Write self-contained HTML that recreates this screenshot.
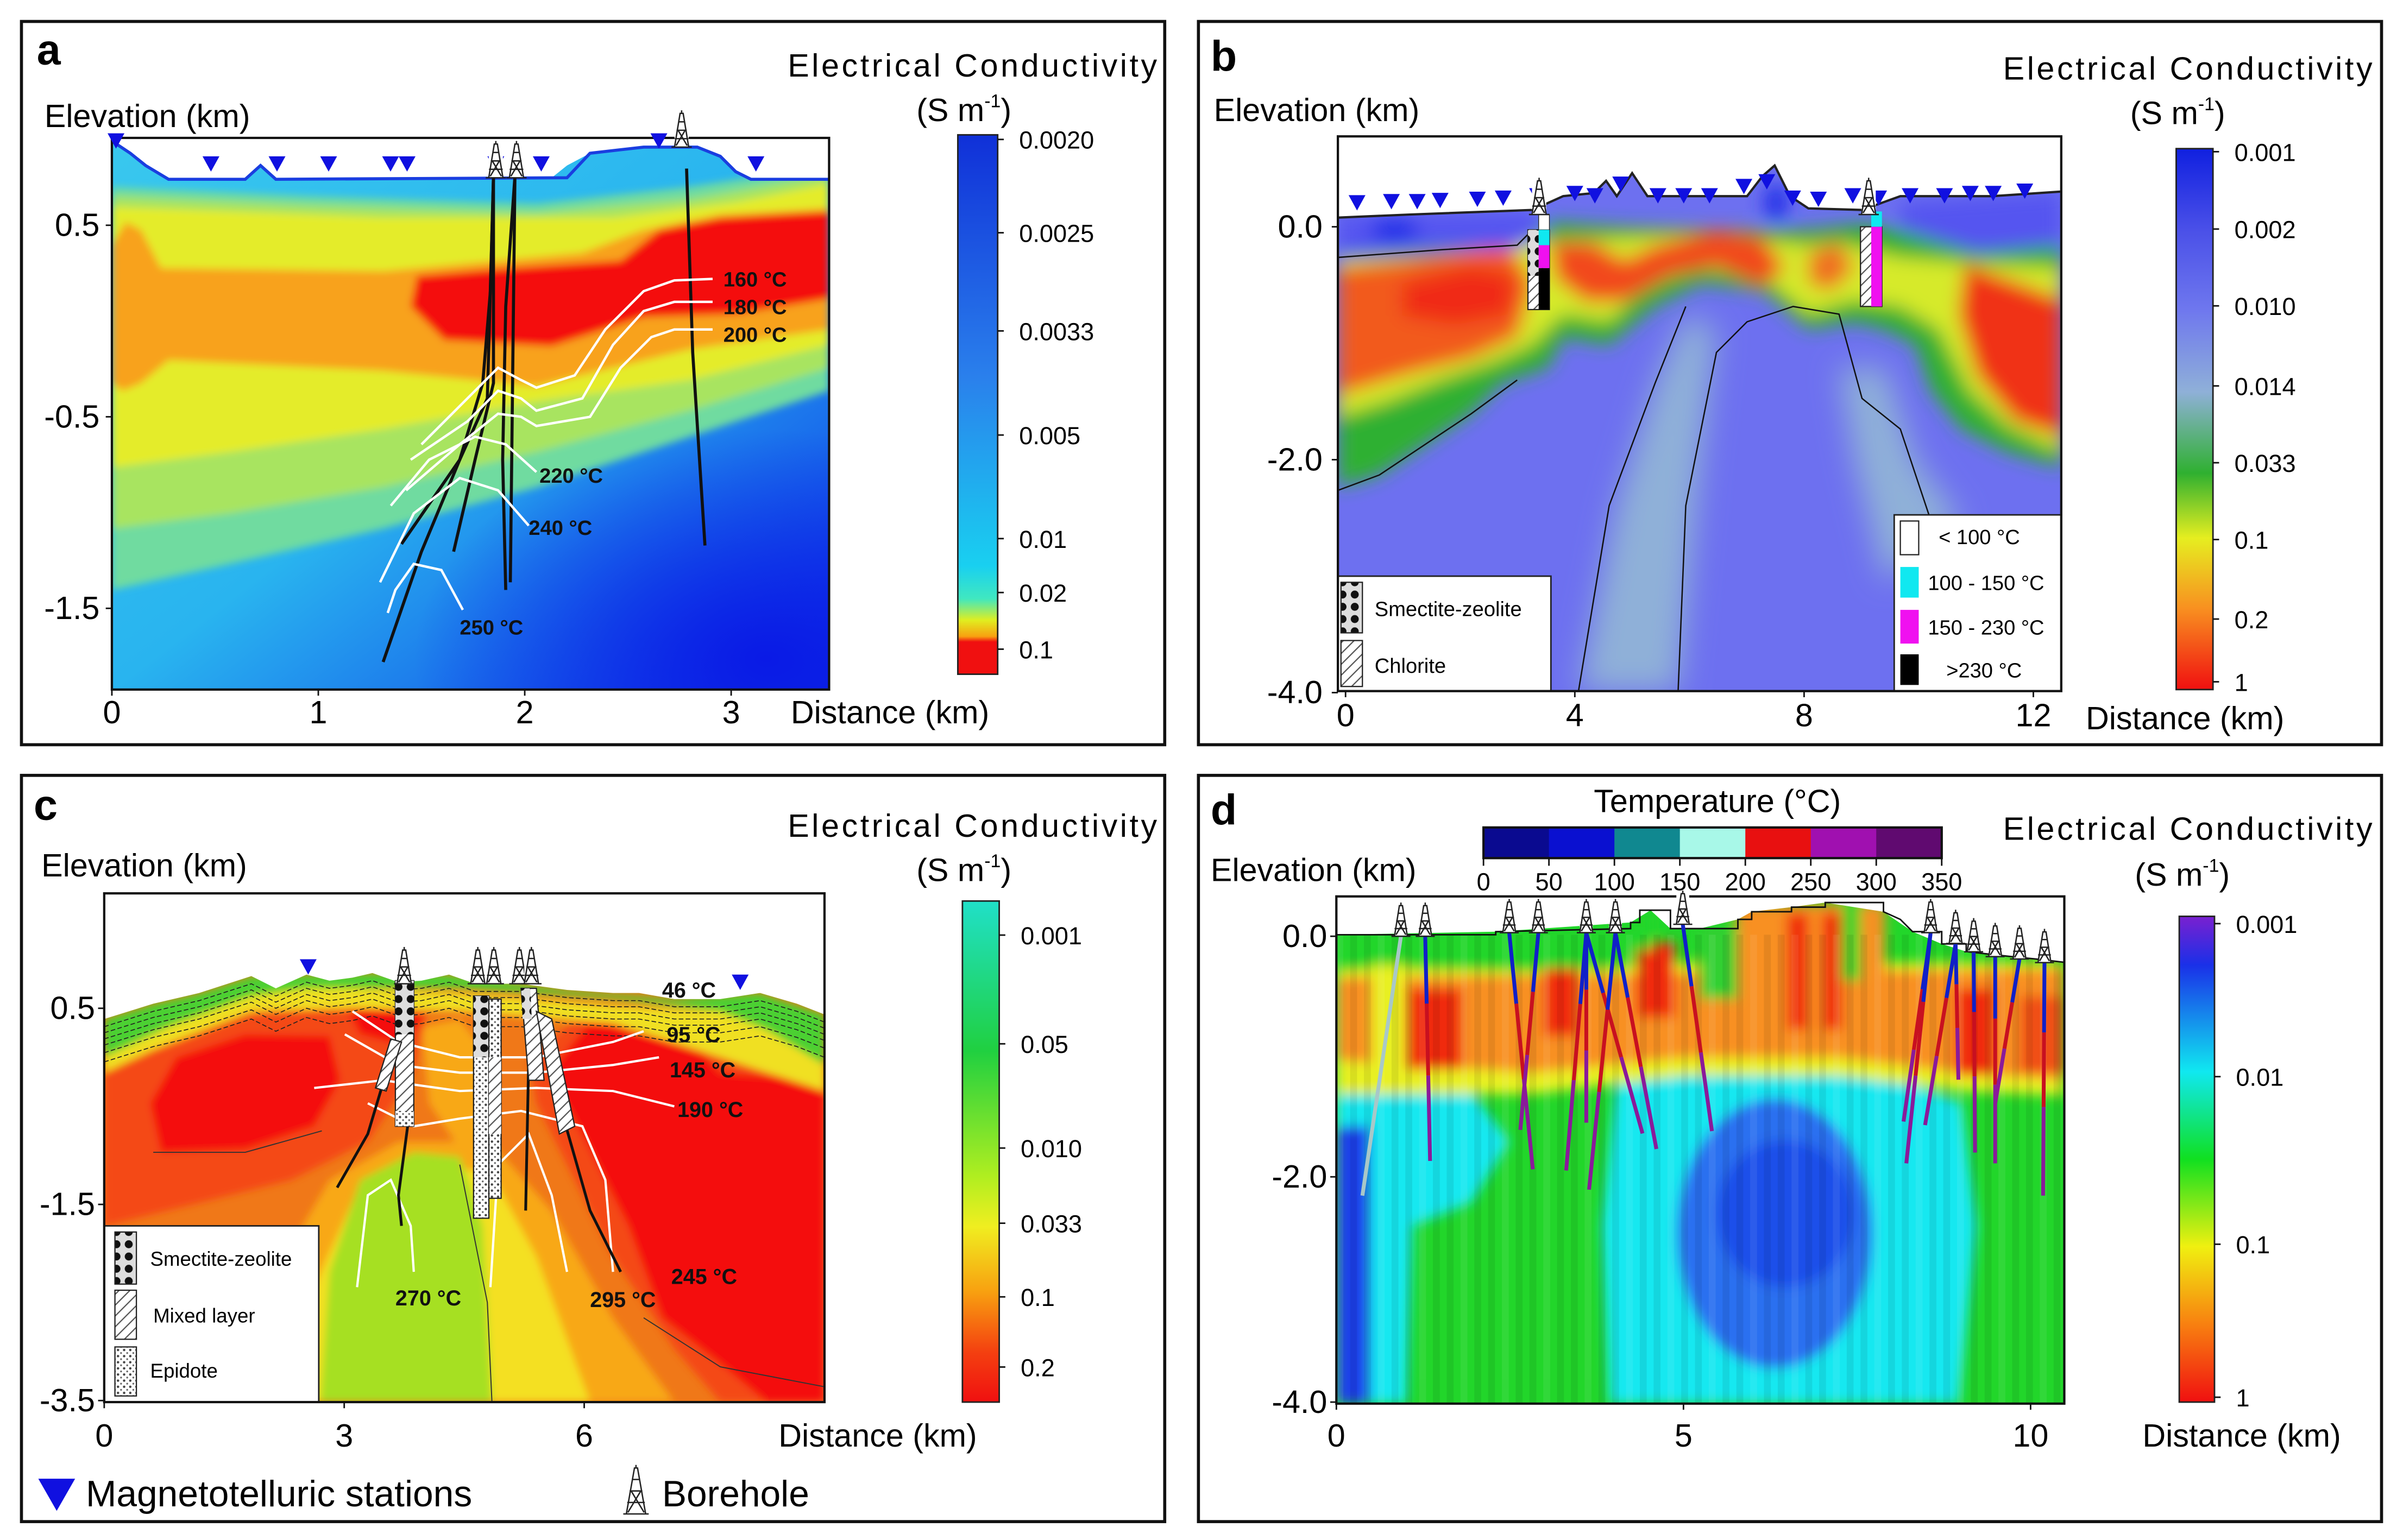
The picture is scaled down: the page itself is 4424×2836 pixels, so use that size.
<!DOCTYPE html>
<html><head><meta charset="utf-8">
<style>
html,body{margin:0;padding:0;background:#fff;}
svg{display:block;font-family:"Liberation Sans",Arial,sans-serif;}
</style></head>
<body>
<svg id="fig" width="4424" height="2836" viewBox="0 0 1568 1005" preserveAspectRatio="none" xmlns="http://www.w3.org/2000/svg">
<defs>
<filter id="blur6" x="-20%" y="-20%" width="140%" height="140%"><feGaussianBlur stdDeviation="6"/></filter>
<filter id="blur4" x="-20%" y="-20%" width="140%" height="140%"><feGaussianBlur stdDeviation="4"/></filter>
<filter id="blur3" x="-20%" y="-20%" width="140%" height="140%"><feGaussianBlur stdDeviation="2.5"/></filter>
<filter id="blur10" x="-30%" y="-30%" width="160%" height="160%"><feGaussianBlur stdDeviation="10"/></filter>
<clipPath id="clipA"><rect x="73" y="90" width="468" height="360"/></clipPath>
<clipPath id="clipB"><rect x="873" y="89" width="472" height="362"/></clipPath>
<clipPath id="clipC"><rect x="68" y="583" width="470" height="332"/></clipPath>
<clipPath id="clipD"><rect x="872" y="585" width="475" height="331"/></clipPath>
<linearGradient id="gA" x1="0" y1="0" x2="1" y2="1">
<stop offset="0" stop-color="#39c8ee"/><stop offset="0.5" stop-color="#29b4ef"/><stop offset="1" stop-color="#0c2ee8"/></linearGradient>
<radialGradient id="rA" cx="0.5" cy="0.5" r="0.5"><stop offset="0" stop-color="#0a1ae6"/><stop offset="1" stop-color="#0a1ae6" stop-opacity="0"/></radialGradient>
<linearGradient id="cbA" x1="0" y1="0" x2="0" y2="1">
<stop offset="0" stop-color="#1030d8"/><stop offset="0.45" stop-color="#2a80ec"/><stop offset="0.8" stop-color="#19d0f0"/><stop offset="0.86" stop-color="#40e8c0"/><stop offset="0.9" stop-color="#e0ee20"/><stop offset="0.93" stop-color="#f8a010"/><stop offset="0.94" stop-color="#f01010"/><stop offset="1" stop-color="#f01010"/></linearGradient>
<linearGradient id="cbB" x1="0" y1="0" x2="0" y2="1">
<stop offset="0" stop-color="#1020e0"/><stop offset="0.15" stop-color="#4a50e8"/><stop offset="0.3" stop-color="#6f78ee"/><stop offset="0.45" stop-color="#8fb0d8"/><stop offset="0.6" stop-color="#2fb030"/><stop offset="0.72" stop-color="#e6ee20"/><stop offset="0.85" stop-color="#f89020"/><stop offset="1" stop-color="#f01010"/></linearGradient>
<linearGradient id="cbC" x1="0" y1="0" x2="0" y2="1">
<stop offset="0" stop-color="#20e0c8"/><stop offset="0.3" stop-color="#20d040"/><stop offset="0.55" stop-color="#b0ee20"/><stop offset="0.65" stop-color="#f0ee20"/><stop offset="0.78" stop-color="#f8a010"/><stop offset="0.9" stop-color="#f44010"/><stop offset="1" stop-color="#f01010"/></linearGradient>
<linearGradient id="cbD" x1="0" y1="0" x2="0" y2="1">
<stop offset="0" stop-color="#7a20d0"/><stop offset="0.1" stop-color="#1a30e8"/><stop offset="0.32" stop-color="#10e8f0"/><stop offset="0.5" stop-color="#10e020"/><stop offset="0.68" stop-color="#f0f010"/><stop offset="0.84" stop-color="#f88010"/><stop offset="1" stop-color="#f01010"/></linearGradient>
<pattern id="hatch" width="5" height="5" patternUnits="userSpaceOnUse" patternTransform="rotate(45)"><rect width="5" height="5" fill="#fff"/><line x1="0" y1="0" x2="0" y2="5" stroke="#555" stroke-width="1.6"/></pattern>
<pattern id="dots" width="8" height="8" patternUnits="userSpaceOnUse"><rect width="8" height="8" fill="#ddd"/><circle cx="4" cy="4" r="2.6" fill="#111"/></pattern>
<pattern id="speck" width="4" height="4" patternUnits="userSpaceOnUse"><rect width="4" height="4" fill="#fff"/><circle cx="1" cy="1" r="0.8" fill="#444"/><circle cx="3" cy="3" r="0.6" fill="#666"/></pattern>
<path id="surfC" d="M68,665 L100,655 L130,648 L164,637 L180,645 L200,636 L215,640 L230,638 L243,635 L260,641 L275,640 L293,636 L310,642 L340,642 L370,646 L400,648 L417,648 L440,652 L470,652 L496,648 L520,655 L538,662"/>
</defs>

<rect x="14" y="14" width="746" height="472" fill="none" stroke="#111" stroke-width="2"/>
<rect x="782" y="14" width="772" height="472" fill="none" stroke="#111" stroke-width="2"/>
<rect x="14" y="506" width="746" height="487" fill="none" stroke="#111" stroke-width="2"/>
<rect x="782" y="506" width="772" height="487" fill="none" stroke="#111" stroke-width="2"/>

<!-- ========== PANEL A ========== -->
<g clip-path="url(#clipA)">
<rect x="73" y="90" width="468" height="360" fill="url(#gA)"/>
<ellipse cx="500" cy="430" rx="230" ry="150" fill="url(#rA)"/>
<g filter="url(#blur3)">
<path fill="#6fdba0" d="M73,122 L200,128 L350,133 L450,122 L541,108 L541,255 L450,285 L350,318 L250,345 L150,368 L73,385 Z"/>
<path fill="#a8e460" d="M73,128 L200,134 L350,139 L450,130 L541,114 L541,240 L450,268 L350,295 L250,318 L150,335 L73,345 Z"/>
<path fill="#e4ec2a" d="M73,135 L250,142 L400,142 L480,132 L541,120 L541,225 L450,248 L350,262 L250,280 L150,295 L73,305 Z"/>
<path fill="#f8a21a" d="M73,160 L82,145 L92,150 L105,175 L250,177 L380,165 L420,150 L470,140 L541,136 L541,215 L450,228 L350,252 L250,242 L110,235 L92,250 L80,255 L73,250 Z"/>
<path fill="#f41010" d="M272,180 L330,175 L405,170 L430,150 L470,142 L541,138 L541,195 L480,205 L420,207 L360,226 L290,222 L268,200 Z"/>
</g>
<path fill="#fff" d="M73,90 L73,92 L85,100 L95,108 L110,117 L160,117 L170,108 L180,117 L320,117 L340,117 L350,116 L360,116 L370,108 L385,100 L420,96 L455,96 L470,102 L480,112 L490,117 L541,117 L541,90 Z"/>
<path fill="none" stroke="#1a3ee0" stroke-width="2" d="M73,92 L85,100 L95,108 L110,117 L160,117 L170,108 L180,117 L370,116 L385,100 L420,96 L455,96 L470,102 L480,112 L490,117 L541,117"/>
<g fill="none" stroke="#111" stroke-width="2">
<path d="M322,115 L320,190 L315,250 L300,300 L275,360 L250,432"/>
<path d="M322,115 L322,250 L310,300 L296,360"/>
<path d="M322,115 L318,260 L300,300 L262,355"/>
<path d="M336,115 L330,200 L328,300 L330,385"/>
<path d="M336,115 L333,380"/>
<path d="M448,110 L452,230 L460,356"/>
</g>
<g fill="none" stroke="#fff" stroke-width="1.6">
<path d="M465,182 L440,183 L420,190 L395,215 L375,245 L350,253 L340,248 L325,240 L310,255 L275,290"/>
<path d="M465,197 L440,197 L420,203 L400,225 L380,260 L350,268 L340,260 L325,255 L305,275 L268,300"/>
<path d="M465,215 L440,215 L425,220 L405,240 L385,272 L350,278 L340,272 L325,270 L300,290 L265,320"/>
<path d="M350,308 L330,290 L310,285 L280,300 L255,330"/>
<path d="M345,343 L325,320 L300,312 L270,335 L248,380"/>
<path d="M302,398 L288,372 L270,368 L258,385 L253,400"/>
</g>
</g>
<rect x="73" y="90" width="468" height="360" fill="none" stroke="#111" stroke-width="1.5"/>
<g font-size="13.5" font-weight="bold" fill="#111">
<text x="472" y="187">160 °C</text><text x="472" y="205">180 °C</text><text x="472" y="223">200 °C</text>
<text x="352" y="315">220 °C</text><text x="345" y="349">240 °C</text><text x="300" y="414">250 °C</text>
</g>
<g id="markA"></g>
<text x="24" y="42" font-size="28" font-weight="bold">a</text>
<text x="29" y="83" font-size="21">Elevation (km)</text>
<text x="516" y="472" font-size="21">Distance (km)</text>
<text x="514" y="50" font-size="21" textLength="241">Electrical Conductivity</text>
<text x="598" y="79" font-size="21">(S m<tspan font-size="12" dy="-9">-1</tspan><tspan dy="9">)</tspan></text>
<rect x="625" y="88" width="26" height="352" fill="url(#cbA)" stroke="#222" stroke-width="1"/>
<g id="ticksA"></g>

<!-- ========== PANEL B ========== -->
<g clip-path="url(#clipB)">
<rect x="873" y="89" width="472" height="362" fill="#6d70f0"/>
<g filter="url(#blur10)">
<path fill="#8fb0d8" d="M1030,451 L1055,330 L1080,250 L1100,205 L1120,215 L1110,300 L1095,451 Z"/>
<path fill="#8fb0d8" d="M1200,240 L1230,240 L1250,300 L1280,340 L1230,380 L1210,300 Z"/>
</g>
<g filter="url(#blur6)">
<path fill="#2fb030" d="M873,160 L940,160 L990,150 L1010,145 L1060,148 L1120,150 L1180,150 L1215,146 L1240,150 L1345,160 L1345,305 L1310,295 L1280,280 L1260,255 L1250,225 L1230,215 L1210,210 L1180,215 L1150,190 L1110,185 L1080,200 L1050,225 L1020,220 L1010,240 L980,250 L960,270 L930,290 L900,310 L873,318 Z"/>
<path fill="#d6ea2a" d="M873,170 L940,168 L995,158 L1060,155 L1120,152 L1180,160 L1200,158 L1240,168 L1290,172 L1345,175 L1345,295 L1310,278 L1285,255 L1265,215 L1240,200 L1210,196 L1180,205 L1150,180 L1110,175 L1075,185 L1050,210 L1020,205 L1000,225 L975,236 L940,248 L905,262 L873,272 Z"/>
<path fill="#f25a1c" d="M873,175 L920,170 L985,160 L1000,185 L990,220 L960,234 L920,244 L873,258 Z"/>
<path fill="#f02a18" d="M915,185 L960,174 L988,180 L985,205 L950,212 L915,206 Z"/>
<path fill="#f24a1c" d="M1012,158 L1040,158 L1060,170 L1080,160 L1120,150 L1150,155 L1165,175 L1150,187 L1120,174 L1090,180 L1060,197 L1035,197 L1015,182 Z"/>
<path fill="#f07020" d="M1180,165 L1200,158 L1210,175 L1195,190 L1180,185 Z"/>
<path fill="#f03018" d="M1282,172 L1310,182 L1345,195 L1345,285 L1315,275 L1290,245 L1278,205 Z"/>
<path fill="#5455f0" d="M873,140 L1000,138 L1010,152 L990,162 L940,163 L873,168 Z"/>
<path fill="#5455f0" d="M1240,132 L1345,125 L1345,160 L1290,165 L1240,150 Z"/>
<ellipse cx="910" cy="150" rx="16" ry="8" fill="#2030e8"/>
<ellipse cx="1159" cy="132" rx="8" ry="12" fill="#2030e8"/>
</g>
<path fill="#fff" d="M873,89 L873,142 L920,140 L1000,137 L1020,128 L1040,126 L1048,118 L1055,128 L1065,113 L1075,128 L1140,128 L1150,115 L1158,108 L1168,128 L1180,136 L1215,137 L1240,128 L1300,128 L1345,125 L1345,89 Z"/>
<path fill="none" stroke="#222" stroke-width="1.5" d="M873,142 L920,140 L1000,137 L1020,128 L1040,126 L1048,118 L1055,128 L1065,113 L1075,128 L1140,128 L1150,115 L1158,108 L1168,128 L1180,136 L1215,137 L1240,128 L1300,128 L1345,125"/>
<g fill="none" stroke="#111" stroke-width="0.9">
<path d="M873,168 L940,163 L990,160 L1000,150"/>
<path d="M873,320 L900,310 L930,290 L960,270 L990,248"/>
<path d="M1030,451 L1050,330 L1080,250 L1100,200"/>
<path d="M1095,451 L1100,330 L1120,230 L1140,210 L1170,200 L1200,205 L1215,260 L1240,280 L1260,340 L1275,451"/>
</g>
<rect x="997" y="150" width="14" height="52" fill="url(#hatch)" stroke="#222" stroke-width="0.8"/>
<rect x="997" y="150" width="7" height="30" fill="url(#dots)"/>
<rect x="1004" y="140" width="7" height="10" fill="#fff" stroke="#222" stroke-width="0.5"/>
<rect x="1004" y="150" width="7" height="10" fill="#10e8f0"/>
<rect x="1004" y="160" width="7" height="15" fill="#f010f0"/>
<rect x="1004" y="175" width="7" height="27" fill="#000"/>
<rect x="1214" y="148" width="14" height="52" fill="url(#hatch)" stroke="#222" stroke-width="0.8"/>
<rect x="1221" y="138" width="7" height="10" fill="#10e8f0"/>
<rect x="1221" y="148" width="7" height="52" fill="#f010f0"/>
<g>
<rect x="873" y="376" width="139" height="75" fill="#fff" stroke="#222" stroke-width="1"/>
<rect x="875" y="380" width="14" height="33" fill="url(#dots)" stroke="#222" stroke-width="0.8"/>
<rect x="875" y="418" width="14" height="30" fill="url(#hatch)" stroke="#222" stroke-width="0.8"/>
<text x="897" y="402" font-size="13.5">Smectite-zeolite</text>
<text x="897" y="439" font-size="13.5">Chlorite</text>
</g>
<g>
<rect x="1236" y="336" width="109" height="115" fill="#fff" stroke="#222" stroke-width="1"/>
<rect x="1240" y="340" width="12" height="22" fill="#fff" stroke="#222" stroke-width="0.8"/>
<rect x="1240" y="370" width="12" height="20" fill="#10e8f0"/>
<rect x="1240" y="398" width="12" height="22" fill="#f010f0"/>
<rect x="1240" y="427" width="12" height="20" fill="#000"/>
<text x="1265" y="355" font-size="13.5">&lt; 100 °C</text>
<text x="1258" y="385" font-size="13.5">100 - 150 °C</text>
<text x="1258" y="414" font-size="13.5">150 - 230 °C</text>
<text x="1270" y="442" font-size="13.5">&gt;230 °C</text>
</g>
</g>
<rect x="873" y="89" width="472" height="362" fill="none" stroke="#111" stroke-width="1.5"/>
<g id="markB"></g>
<text x="790" y="46" font-size="28" font-weight="bold">b</text>
<text x="792" y="79" font-size="21">Elevation (km)</text>
<text x="1361" y="476" font-size="21">Distance (km)</text>
<text x="1307" y="52" font-size="21" textLength="241">Electrical Conductivity</text>
<text x="1390" y="81" font-size="21">(S m<tspan font-size="12" dy="-9">-1</tspan><tspan dy="9">)</tspan></text>
<rect x="1420" y="97" width="24" height="353" fill="url(#cbB)" stroke="#222" stroke-width="1"/>
<g id="ticksB"></g>

<!-- ========== PANEL C ========== -->
<g clip-path="url(#clipC)">
<rect x="68" y="583" width="470" height="332" fill="#f07818"/>
<g filter="url(#blur3)">
<path fill="#f8a818" d="M150,915 L180,830 L215,770 L260,745 L320,745 L360,790 L400,860 L440,915 Z"/>
<path fill="#f4e020" d="M185,915 L205,840 L232,780 L275,760 L320,765 L350,820 L385,915 Z"/>
<path fill="#a6e020" d="M209,915 L215,830 L235,770 L270,752 L300,755 L315,800 L321,915 Z"/>
<path fill="#f8a818" d="M275,670 L300,665 L320,690 L318,740 L300,750 L280,720 Z"/>
<path fill="#f44a14" d="M68,700 L110,675 L170,660 L230,650 L280,655 L270,700 L240,745 L190,770 L130,785 L68,800 Z"/>
<path fill="#f41010" d="M98,720 L115,690 L160,675 L215,676 L222,705 L205,735 L160,750 L105,752 Z"/>
<path fill="#f41010" d="M221,648 L260,646 L276,665 L262,682 L235,675 Z"/>
<path fill="#f44a14" d="M345,690 L380,662 L440,660 L480,680 L538,690 L538,915 L470,915 L440,880 L400,820 L370,760 L350,720 Z"/>
<path fill="#f41010" d="M358,700 L385,667 L442,668 L470,700 L538,705 L538,915 L500,915 L470,890 L432,860 L410,800 L382,745 Z"/>
<path fill="#f0e020" d="M68,670 L100,662 L164,644 L230,645 L300,648 L400,656 L470,660 L538,670 L538,712 L470,690 L400,668 L300,660 L230,658 L164,660 L100,685 L68,700 Z"/>
<path fill="#4cd030" d="M68,665 L100,655 L130,648 L164,637 L200,636 L243,635 L293,636 L370,646 L440,652 L496,648 L538,662 L538,695 L500,672 L470,660 L400,652 L300,645 L200,645 L164,650 L110,670 L68,690 Z"/>
</g>
<g fill="none" stroke="#222" stroke-width="0.6" stroke-dasharray="3,1.5">
<use href="#surfC" transform="translate(0,5)"/>
<use href="#surfC" transform="translate(0,9)"/>
<use href="#surfC" transform="translate(0,13)"/>
<use href="#surfC" transform="translate(0,17)"/>
<use href="#surfC" transform="translate(0,22)"/>
<use href="#surfC" transform="translate(0,28)"/>
</g>
<path fill="#fff" d="M68,583 L538,583 L538,662 L520,655 L496,648 L470,652 L440,652 L417,648 L400,648 L370,646 L340,642 L310,642 L293,636 L275,640 L260,641 L243,635 L230,638 L215,640 L200,636 L180,645 L164,637 L130,648 L100,655 L68,665 Z"/>
<g fill="none" stroke="#333" stroke-width="0.7">
<path d="M321,915 L318,850 L300,760"/>
<path d="M100,752 L160,752 L210,738"/>
<path d="M420,860 L470,892 L538,905"/>
</g>
<g fill="none" stroke="#fff" stroke-width="1.5">
<path d="M230,660 L260,680 L300,690 L350,690 L400,680 L420,673"/>
<path d="M225,675 L260,695 L300,700 L350,700 L400,695 L430,690"/>
<path d="M205,710 L250,705 L300,712 L350,710 L400,712 L440,722"/>
<path d="M240,720 L270,735 L300,730 L340,725 L380,735 L395,770 L400,830"/>
<path d="M233,840 L240,780 L255,770 L268,800 L270,830"/>
<path d="M320,840 L325,760 L345,740 L360,780 L370,830"/>
</g>
<g fill="none" stroke="#111" stroke-width="1.8">
<path d="M252,700 L240,740 L220,775"/>
<path d="M266,735 L260,780 L262,800"/>
<path d="M345,690 L343,790"/>
<path d="M365,720 L385,790 L405,830"/>
</g>
<rect x="258" y="640" width="12" height="95" fill="url(#hatch)" stroke="#222" stroke-width="0.8"/>
<rect x="258" y="640" width="12" height="35" fill="url(#dots)"/>
<rect x="258" y="725" width="12" height="10" fill="url(#speck)"/>
<path d="M255,678 L245,710 L252,712 L262,680 Z" fill="url(#hatch)" stroke="#222" stroke-width="0.8"/>
<rect x="309" y="650" width="10" height="145" fill="url(#speck)" stroke="#222" stroke-width="0.8"/>
<rect x="309" y="650" width="10" height="40" fill="url(#dots)"/>
<rect x="319" y="652" width="8" height="130" fill="url(#speck)" stroke="#222" stroke-width="0.8"/>
<rect x="319" y="690" width="8" height="50" fill="url(#hatch)"/>
<path d="M340,645 L350,645 L355,705 L345,705 Z" fill="url(#hatch)" stroke="#222" stroke-width="0.8"/>
<path d="M340,645 L346,645 L347,665 L341,665 Z" fill="url(#dots)"/>
<path d="M350,660 L360,665 L375,735 L365,740 Z" fill="url(#hatch)" stroke="#222" stroke-width="0.8"/>
<g>
<rect x="68" y="800" width="140" height="115" fill="#fff" stroke="#222" stroke-width="1"/>
<rect x="75" y="804" width="14" height="34" fill="url(#dots)" stroke="#222" stroke-width="0.8"/>
<rect x="75" y="842" width="14" height="32" fill="url(#hatch)" stroke="#222" stroke-width="0.8"/>
<rect x="75" y="879" width="14" height="32" fill="url(#speck)" stroke="#222" stroke-width="0.8"/>
<text x="98" y="826" font-size="13">Smectite-zeolite</text>
<text x="100" y="863" font-size="13">Mixed layer</text>
<text x="98" y="899" font-size="13">Epidote</text>
</g>
</g>
<rect x="68" y="583" width="470" height="332" fill="none" stroke="#111" stroke-width="1.5"/>
<g font-size="14" font-weight="bold" fill="#111">
<text x="432" y="651">46 °C</text><text x="435" y="680">95 °C</text><text x="437" y="703">145 °C</text>
<text x="442" y="729">190 °C</text><text x="438" y="838">245 °C</text><text x="385" y="853">295 °C</text>
<text x="258" y="852">270 °C</text>
</g>
<g id="markC"></g>
<text x="22" y="535" font-size="28" font-weight="bold">c</text>
<text x="27" y="572" font-size="21">Elevation (km)</text>
<text x="508" y="944" font-size="21">Distance (km)</text>
<text x="514" y="546" font-size="21" textLength="241">Electrical Conductivity</text>
<text x="598" y="575" font-size="21">(S m<tspan font-size="12" dy="-9">-1</tspan><tspan dy="9">)</tspan></text>
<rect x="628" y="588" width="24" height="327" fill="url(#cbC)" stroke="#222" stroke-width="1"/>
<g id="ticksC"></g>
<g>
<polygon points="25,965 49,965 37,986" fill="#1010e0"/>
<text x="56" y="983" font-size="24">Magnetotelluric stations</text>
</g>
<g id="legBore">
<text x="432" y="983" font-size="24">Borehole</text>
</g>

<!-- ========== PANEL D ========== -->
<g clip-path="url(#clipD)">
<rect x="872" y="585" width="475" height="331" fill="#22d62a"/>
<g filter="url(#blur4)">
<path fill="#18e8f0" d="M872,705 L960,712 L985,745 L960,785 L922,800 L918,916 L872,916 Z"/>
<rect x="872" y="735" width="22" height="181" fill="#1a40ea"/>
<path fill="#18e8f0" d="M1055,700 L1130,690 L1230,700 L1280,720 L1290,800 L1278,916 L1050,916 L1045,800 Z"/>
<ellipse cx="1158" cy="805" rx="64" ry="88" fill="#2a70f0"/>
<ellipse cx="1165" cy="792" rx="45" ry="48" fill="#1a50ea"/>
<path fill="#e8f020" d="M872,628 L1347,628 L1347,715 L1280,712 L1200,702 L1100,702 L1000,714 L872,714 Z"/>
<path fill="#f89020" d="M872,638 L1347,632 L1347,705 L1280,700 L1200,690 L1100,690 L1000,700 L872,692 Z"/>
<path fill="#22d62a" d="M872,605 L1065,605 L1065,632 L1000,634 L900,632 L872,634 Z"/>
<path fill="#e8f020" d="M895,630 L917,630 L917,700 L895,700 Z"/>
<path fill="#f02a10" d="M918,645 L954,645 L954,698 L918,698 Z"/>
<path fill="#f02a10" d="M1007,632 L1030,632 L1030,676 L1007,676 Z"/>
<path fill="#f02a10" d="M1068,615 L1093,615 L1093,664 L1068,664 Z"/>
<path fill="#f89020" d="M1133,590 L1230,590 L1230,690 L1133,690 Z"/>
<path fill="#f02a10" d="M1166,596 L1180,596 L1180,672 L1166,672 Z"/>
<path fill="#f02a10" d="M1189,596 L1202,596 L1202,672 L1189,672 Z"/>
<path fill="#22d62a" d="M1202,586 L1214,586 L1214,640 L1202,640 Z"/>
<path fill="#22d62a" d="M1065,595 L1078,595 L1078,620 L1065,620 Z"/>
<path fill="#30d030" d="M1109,604 L1134,604 L1134,652 L1109,652 Z"/>
<path fill="#f02a10" d="M1276,645 L1302,645 L1302,702 L1276,702 Z"/>
<path fill="#f05018" d="M1318,650 L1347,650 L1347,700 L1318,700 Z"/>
</g>
<g id="stripesD" opacity="0.07"></g>
<path fill="#fff" d="M872,585 L1347,585 L1347,628 L1283,621 L1267,616 L1248,608 L1229,595 L1191,589 L1169,592 L1143,595 L1134,600 L1109,606 L1090,606 L1077,594 L1064,602 L976,608 L872,610 Z"/>
<path fill="none" stroke="#111" stroke-width="1" d="M872,610 L976,610 L976,608 L1064,606 L1064,602 L1070,602 L1070,594 L1090,594 L1090,606 L1109,606 L1134,606 L1134,600 L1143,600 L1143,595 L1169,595 L1169,592 L1191,592 L1191,589 L1229,589 L1229,595 L1240,600 L1248,608 L1267,608 L1267,616 L1283,616 L1283,621 L1310,624 L1330,626 L1347,628"/>
<g id="wellsD"></g>
</g>
<rect x="872" y="585" width="475" height="331" fill="none" stroke="#111" stroke-width="1.5"/>
<g id="markD"></g>
<text x="790" y="538" font-size="28" font-weight="bold">d</text>
<text x="790" y="575" font-size="21">Elevation (km)</text>
<text x="1398" y="944" font-size="21">Distance (km)</text>
<text x="1307" y="548" font-size="21" textLength="241">Electrical Conductivity</text>
<text x="1393" y="578" font-size="21">(S m<tspan font-size="12" dy="-9">-1</tspan><tspan dy="9">)</tspan></text>
<rect x="1422" y="598" width="23" height="317" fill="url(#cbD)" stroke="#222" stroke-width="1"/>
<g id="ticksD"></g>
<text x="1040" y="530" font-size="21">Temperature (°C)</text>
<g id="tempBar"></g>
</svg>

<script>
const NS = "http://www.w3.org/2000/svg";
// Panel a
const aXTicks = [0, 1, 2, 3];
const aYTicks = [0.5, -0.5, -1.5];
const aCbLabels = ["0.0020", "0.0025", "0.0033", "0.005", "0.01", "0.02", "0.1"];
const aCbLevels = [0, 0.173, 0.355, 0.548, 0.74, 0.84, 0.945];
const aStations = [0.02, 0.48, 0.8, 1.05, 1.35, 1.43, 1.86, 2.08, 2.65, 3.12];
const aBoreholes = [1.86, 1.96, 2.76];
// Panel b
const bXTicks = [0, 4, 8, 12];
const bYTicks = [0.0, -2.0, -4.0];
const bCbLabels = ["0.001", "0.002", "0.010", "0.014", "0.033", "0.1", "0.2", "1"];
const bCbLevels = [0, 0.143, 0.285, 0.433, 0.575, 0.717, 0.864, 0.98];
const bStations = [0.2, 0.8, 1.25, 1.65, 2.3, 2.75, 3.35, 4.0, 4.35, 4.8, 5.45, 5.9, 6.35, 6.95, 7.35, 7.8, 8.25, 8.85, 9.3, 9.85, 10.45, 10.9, 11.3, 11.85];
const bStationElev = [0.14, 0.15, 0.15, 0.16, 0.17, 0.18, 0.2, 0.22, 0.2, 0.3, 0.2, 0.2, 0.2, 0.28, 0.32, 0.18, 0.17, 0.2, 0.18, 0.2, 0.2, 0.22, 0.22, 0.24];
const bBoreholes = [3.35, 9.1];
// Panel c
const cXTicks = [0, 3, 6];
const cYTicks = [0.5, -1.5, -3.5];
const cCbLabels = ["0.001", "0.05", "0.010", "0.033", "0.1", "0.2"];
const cCbLevels = [0.068, 0.285, 0.493, 0.643, 0.79, 0.93];
const cStations = [2.55, 7.95];
const cBoreholes = [3.75, 4.67, 4.87, 5.19, 5.34];
// Panel d
const dXTicks = [0, 5, 10];
const dYTickLabels = ["0.0", "-2.0", "-4.0"];
const dYTickPix = [611, 768, 915];
const dCbLabels = ["0.001", "0.01", "0.1", "1"];
const dCbLevels = [0.015, 0.33, 0.675, 0.99];
const dBoreholes = [0.93, 1.28, 2.49, 2.91, 3.6, 4.02, 4.99, 8.56, 8.92, 9.18, 9.49, 9.84, 10.2];
const dWellTops = [0.0, 0.0, 0.03, 0.03, 0.03, 0.03, 0.1, 0.03, -0.06, -0.13, -0.17, -0.19, -0.22];
const dWellStartKm = [0.93, 1.28, 2.49, 2.91, 3.6, 3.6, 3.6, 4.02, 4.02, 4.99, 8.56, 8.56, 8.92, 8.92, 9.18, 9.49, 9.84, 10.2];
const dWellEndKm = [0.375, 1.35, 2.83, 2.65, 3.31, 3.6, 4.41, 3.64, 4.61, 5.41, 8.17, 8.21, 8.48, 8.96, 9.2, 9.49, 9.49, 10.18];
const dWellEndElev = [-2.17, -1.88, -1.95, -1.62, -1.96, -1.56, -1.65, -2.12, -1.78, -1.63, -1.55, -1.9, -1.58, -1.2, -1.81, -1.9, -1.4, -2.17];
const tempTicks = [0, 50, 100, 150, 200, 250, 300, 350];
const tempColors = ["#0a0a90", "#0a10d0", "#108890", "#a8f8e8", "#e81010", "#a010b0", "#600a70"];

const ax = {
  a: {x: v => 73 + v * 134.7, y: v => 147 - (v - 0.5) * 125},
  b: {x: v => 878 + v * 37.4, y: v => 148 - v * 76},
  c: {x: v => 68 + v * 52.2, y: v => 658 - (v - 0.5) * 64},
  d: {x: v => 872 + v * 45.3, y: v => 611 - v * 78}
};

function el(tag, attrs, parent) {
  const e = document.createElementNS(NS, tag);
  for (const k in attrs) e.setAttribute(k, attrs[k]);
  parent.appendChild(e);
  return e;
}
function txt(parent, x, y, s, size, anchor) {
  const t = el("text", {x: x, y: y, "font-size": size, "text-anchor": anchor || "start"}, parent);
  t.textContent = s;
  return t;
}
function station(parent, x, yBottom) {
  const p = el("polygon", {points: (x - 5.5) + "," + (yBottom - 10) + " " + (x + 5.5) + "," + (yBottom - 10) + " " + x + "," + yBottom, fill: "#1010e0"}, parent);
  
  
}
function derrick(parent, x, yBase, h) {
  const w = h * 0.42;
  const g = el("g", {fill: "none", stroke: "#222", "stroke-width": 0.9}, parent);
  
  
  el("rect", {x: x - w / 2, y: yBase - h, width: w, height: h, fill: "#fff", stroke: "none"}, g);
  el("path", {d: "M" + (x - w / 2) + "," + yBase + " L" + (x - 1) + "," + (yBase - h) + " L" + (x + 1) + "," + (yBase - h) + " L" + (x + w / 2) + "," + yBase}, g);
  for (let i = 1; i < 4; i++) {
    const yy = yBase - h * i / 4, hw = w / 2 * (1 - i / 4) + 1;
    el("line", {x1: x - hw, y1: yy, x2: x + hw, y2: yy}, g);
  }
  el("path", {d: "M" + (x - w / 2 + 1) + "," + (yBase - 1) + " L" + (x + w / 4) + "," + (yBase - h / 2) + " M" + (x + w / 2 - 1) + "," + (yBase - 1) + " L" + (x - w / 4) + "," + (yBase - h / 2)}, g);
  el("line", {x1: x - w / 2 - 2, y1: yBase, x2: x + w / 2 + 2, y2: yBase}, g);
  el("line", {x1: x, y1: yBase - h - 2, x2: x, y2: yBase - h}, g);
}
function xTicks(parent, a, vals, yAxis, yLab) {
  vals.forEach(v => {
    el("line", {x1: a.x(v), y1: yAxis, x2: a.x(v), y2: yAxis + 4, stroke: "#111", "stroke-width": 1}, parent);
    const t = txt(parent, a.x(v), yLab, String(v), 21, "middle");
    
    
  });
}
function yTicks(parent, vals, labels, pix, xAxis, xLab) {
  vals.forEach((v, i) => {
    el("line", {x1: xAxis - 4, y1: pix[i], x2: xAxis, y2: pix[i], stroke: "#111", "stroke-width": 1}, parent);
    const t = txt(parent, xLab, pix[i] + 7, labels[i], 21, "end");
    
    
  });
}
function cbTicks(parent, labels, levels, x, y0, h, w) {
  labels.forEach((s, i) => {
    const y = y0 + levels[i] * h;
    el("line", {x1: x + w, y1: y, x2: x + w + 4, y2: y, stroke: "#111", "stroke-width": 1}, parent);
    const t = txt(parent, x + w + 14, y + 6, s, 16);
    
    
  });
}

const gA = document.getElementById("markA");
aStations.forEach((s, i) => station(gA, ax.a.x(s), s > 2.5 && s < 2.7 ? 97 : (s < 0.1 ? 97 : 112)));
aBoreholes.forEach(b => derrick(gA, ax.a.x(b), b > 2.5 ? 96 : 116, 22));
xTicks(gA, ax.a, aXTicks, 450, 472);
yTicks(gA, aYTicks, aYTicks.map(v => String(v)), aYTicks.map(ax.a.y), 73, 65);
cbTicks(document.getElementById("ticksA"), aCbLabels, aCbLevels, 625, 91, 352, 26);

const gB = document.getElementById("markB");
bStations.forEach((s, i) => station(gB, ax.b.x(s), ax.b.y(bStationElev[i])));
bBoreholes.forEach(b => derrick(gB, ax.b.x(b) + 1, 140, 22));
xTicks(gB, ax.b, bXTicks, 451, 474);
yTicks(gB, bYTicks, ["0.0", "-2.0", "-4.0"], bYTicks.map(ax.b.y), 873, 863);
cbTicks(document.getElementById("ticksB"), bCbLabels, bCbLevels, 1420, 99, 353, 24);

const gC = document.getElementById("markC");
cStations.forEach(s => station(gC, ax.c.x(s), s < 3 ? 636 : 646));
cBoreholes.forEach(b => derrick(gC, ax.c.x(b), 642, 22));
xTicks(gC, ax.c, cXTicks, 915, 944);
yTicks(gC, cYTicks, cYTicks.map(v => String(v)), cYTicks.map(ax.c.y), 68, 62);
cbTicks(document.getElementById("ticksC"), cCbLabels, cCbLevels, 628, 588, 327, 24);
derrick(document.getElementById("legBore"), 415, 988, 30);

const gD = document.getElementById("markD");
dBoreholes.forEach((b, i) => derrick(gD, ax.d.x(b), ax.d.y(dWellTops[i]), 20));
xTicks(gD, ax.d, dXTicks, 916, 944);
yTicks(gD, [0, 1, 2], dYTickLabels, dYTickPix, 872, 866);
cbTicks(document.getElementById("ticksD"), dCbLabels, dCbLevels, 1422, 598, 317, 23);
const wD = document.getElementById("wellsD");
const wellSegColors = ["#1020c8", "#c81020", "#8a1a9a"];
const wellSegFrac = [0, 0.3, 0.62, 1];
dWellStartKm.forEach((s, i) => {
  const bi = dBoreholes.indexOf(s);
  const x1 = ax.d.x(s), y1 = ax.d.y(bi >= 0 ? dWellTops[bi] : 0);
  const x2 = ax.d.x(dWellEndKm[i]), y2 = ax.d.y(dWellEndElev[i]);
  const g = el("g", {}, wD);
  
  
  for (let k = 0; k < 3; k++) {
    const f0 = wellSegFrac[k], f1 = wellSegFrac[k + 1];
    el("line", {x1: x1 + (x2 - x1) * f0, y1: y1 + (y2 - y1) * f0, x2: x1 + (x2 - x1) * f1, y2: y1 + (y2 - y1) * f1,
      stroke: i === 0 ? "#a8c8c8" : wellSegColors[k], "stroke-width": 2.5}, g);
  }
});
const sD = document.getElementById("stripesD");
for (let x = 872; x < 1347; x += 9) {
  el("rect", {x: x, y: 610, width: 4.5, height: 306, fill: ((x / 9) % 3 < 1) ? "#fff" : "#000"}, sD);
}
const tb = document.getElementById("tempBar");
const tx = v => 968 + v * (299 / 350);
tempColors.forEach((c, i) => {
  const r = el("rect", {x: tx(tempTicks[i]), y: 540, width: tx(tempTicks[i + 1]) - tx(tempTicks[i]) + 0.5, height: 20, fill: c}, tb);
  
  
});
el("rect", {x: 968, y: 540, width: 299, height: 20, fill: "none", stroke: "#111", "stroke-width": 1.5}, tb);
tempTicks.forEach(v => {
  el("line", {x1: tx(v), y1: 560, x2: tx(v), y2: 565, stroke: "#111"}, tb);
  const t = txt(tb, tx(v), 581, String(v), 16, "middle");
  
  
});
</script>
</body></html>
